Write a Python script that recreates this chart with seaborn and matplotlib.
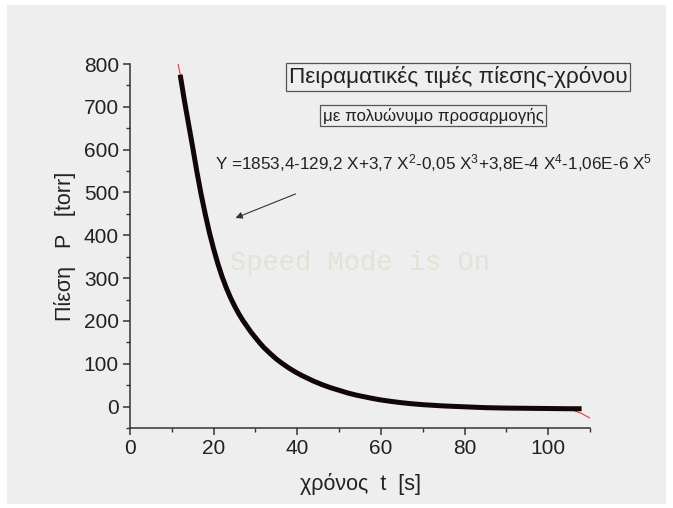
import matplotlib
matplotlib.use("Agg")
import matplotlib.pyplot as plt
from matplotlib.patches import Rectangle
from matplotlib.ticker import MultipleLocator
import pandas as pd
import seaborn as sns

t_meas = [12, 13, 14, 15, 16, 17, 18, 19, 20, 21, 22, 23, 24, 25, 26, 27, 28,
          29, 30, 31, 32, 33.5, 35, 36.5, 38, 39.5, 41, 42.5, 44, 46, 48, 50,
          52, 54, 56, 58, 60, 62.5, 65, 67.5, 70, 75, 80, 85, 90, 95, 100, 105, 108]
p_meas = [775, 715, 660, 605, 548, 496, 449, 406, 368, 334, 304, 278, 255, 235,
          217, 201, 187, 173, 161, 149, 138, 124, 111, 100, 90, 81, 73, 66, 59,
          51, 44, 38, 32, 27, 23, 19, 15.5, 12, 9, 6.5, 4.5, 1.5, -0.5, -2.5,
          -3.5, -4, -4.5, -5, -5]

# polynomial fit curve
t_fit = [11.5, 12, 13, 14, 15, 16, 17, 18, 19, 20, 22, 24, 26, 28, 30, 32, 35,
         38, 41, 44, 48, 52, 56, 60, 65, 70, 75, 80, 85, 90, 95, 100, 104, 106,
         108, 110]
p_fit = [800, 776, 716, 660, 604, 547, 495, 448, 405, 367, 303, 254, 216, 186,
         160, 137, 110, 89, 72, 58, 43, 31, 22, 14, 8, 3.5, 0.5, -1.5, -3, -4,
         -4.5, -5, -6, -9, -16, -27]

title = "Πειραματικές τιμές πίεσης-χρόνου"
subtitle = "με πολυώνυμο προσαρμογής"
equation = ("Y =1853,4-129,2 X+3,7 X$^{2}$-0,05 X$^{3}$+3,8E-4 X$^{4}$"
            "-1,06E-6 X$^{5}$")

bg = "#EEEEEE"
sns.set_style("ticks")
plt.rcParams["font.family"] = ["Liberation Sans", "DejaVu Sans"]
plt.rcParams["mathtext.fontset"] = "custom"
plt.rcParams["mathtext.rm"] = "Liberation Sans"
plt.rcParams["mathtext.it"] = "Liberation Sans"

fig = plt.figure(figsize=(6.73, 5.08), dpi=100, facecolor="white")
# grey panel inside the white frame
fig.patches.append(Rectangle((7 / 673, 4 / 508), 659 / 673, 499 / 508,
                             transform=fig.transFigure, facecolor=bg,
                             edgecolor="none", zorder=-5))

ax = fig.add_axes([130 / 673, 80 / 508, 460 / 673, 364 / 508])
ax.set_facecolor(bg)

meas = pd.DataFrame({"t": t_meas, "P": p_meas})
fit = pd.DataFrame({"t": t_fit, "P": p_fit})

# fit drawn underneath, it only shows where it leaves the data
sns.lineplot(data=fit, x="t", y="P", ax=ax, color="#E23A3A", lw=0.8,
             sort=False, zorder=2)
sns.lineplot(data=meas, x="t", y="P", ax=ax, color="#120606", lw=3.6,
             solid_capstyle="butt", solid_joinstyle="round", sort=False,
             zorder=3)

ax.set_xlim(0, 110)
ax.set_ylim(-50, 800)
ax.xaxis.set_major_locator(MultipleLocator(20))
ax.xaxis.set_minor_locator(MultipleLocator(10))
ax.yaxis.set_major_locator(MultipleLocator(100))
ax.yaxis.set_minor_locator(MultipleLocator(50))
for s in ["top", "right"]:
    ax.spines[s].set_visible(False)
for s in ["left", "bottom"]:
    ax.spines[s].set_color("#333333")
    ax.spines[s].set_linewidth(1.1)
ax.tick_params(which="major", direction="out", length=5, width=1.1,
               color="#333333", labelsize=15, labelcolor="#222222", pad=3)
ax.tick_params(which="minor", direction="out", length=3, width=1.0,
               color="#333333")

ax.set_xlabel("χρόνος  t  [s]", fontsize=15.5, color="#222222")
ax.set_ylabel("Πίεση   P   [torr]", fontsize=15.5, color="#222222")
ax.xaxis.set_label_coords(0.5, -45 / 364)
ax.yaxis.set_label_coords(-54 / 460, 0.5)

# header boxes
fig.text(458 / 673, 1 - 77 / 508, title, fontsize=16.2, color="#222222",
         ha="center", va="center",
         bbox=dict(boxstyle="square,pad=0.12", facecolor=bg,
                   edgecolor="#555555", lw=0.9))
fig.text(433 / 673, 1 - 115.5 / 508, subtitle, fontsize=12.2, color="#222222",
         ha="center", va="center",
         bbox=dict(boxstyle="square,pad=0.15", facecolor=bg,
                   edgecolor="#555555", lw=0.9))
fig.text(215 / 673, 1 - 163 / 508, equation, fontsize=12.3, color="#222222",
         ha="left", va="center")

ax.annotate("", xy=(24.6, 438), xytext=(40.2, 499),
            arrowprops=dict(arrowstyle="-|>", color="#333333", lw=0.8,
                            mutation_scale=10))

ax.text(23.9, 336, "Speed Mode is On", fontsize=19.5, family="Liberation Mono",
        color="#E4E1D6", ha="left", va="center", zorder=1)

fig.savefig("out.png", dpi=100, facecolor="white")
